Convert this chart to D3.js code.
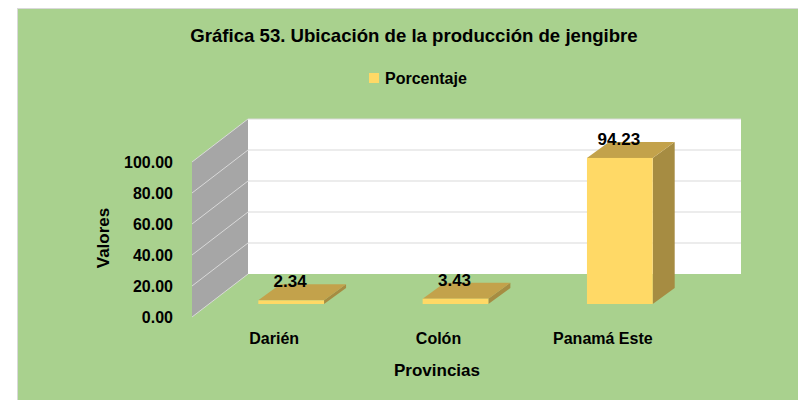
<!DOCTYPE html>
<html>
<head>
<meta charset="utf-8">
<script src="https://cdn.jsdelivr.net/npm/d3@7"></script>
<style>
  html, body { margin: 0; padding: 0; background: #ffffff; }
  svg { display: block; }
  text { font-family: "Liberation Sans", Arial, sans-serif; font-weight: bold; fill: #000; }
</style>
</head>
<body>
<svg id="chart" width="798" height="400"></svg>
<script>
// Chart data
const categories = ["Darién", "Colón", "Panamá Este"];
const porcentaje = [2.34, 3.43, 94.23];
const yTicks = [0, 20, 40, 60, 80, 100];
const seriesName = "Porcentaje";
const titleText = "Gráfica 53. Ubicación de la producción de jengibre";
const xTitle = "Provincias";
const yTitle = "Valores";

const FONT = "'Liberation Sans', Arial, sans-serif";
const svg = d3.select("#chart");

// Outer chart area
svg.append("rect")
  .attr("x", 17.5).attr("y", 8.5)
  .attr("width", 820).attr("height", 420)
  .attr("fill", "#A9D18E")
  .attr("stroke", "#D9D9D9").attr("stroke-width", 1);

// 3D plot geometry: front floor edge and depth offset of the back wall
const frontLeft = 192, frontRight = 685;
const depthX = 56, depthY = 43;

const y = d3.scaleLinear().domain([0, 100]).range([317, 162]);
const x = d3.scaleBand().domain(categories).range([frontLeft, frontRight]);

// Back wall
svg.append("rect")
  .attr("x", frontLeft + depthX).attr("y", y(100) - depthY)
  .attr("width", frontRight - frontLeft).attr("height", y(0) - y(100))
  .attr("fill", "#FFFFFF");

// Side wall
svg.append("polygon")
  .attr("points", [
    [frontLeft, y(0)], [frontLeft + depthX, y(0) - depthY],
    [frontLeft + depthX, y(100) - depthY], [frontLeft, y(100)]
  ].map(p => p.join(",")).join(" "))
  .attr("fill", "#A6A6A6");

// Gridlines on back wall and side wall
const grid = svg.append("g");
yTicks.forEach(t => {
  if (t > 0) {
    grid.append("line")
      .attr("x1", frontLeft + depthX).attr("x2", frontRight + depthX)
      .attr("y1", y(t) - depthY).attr("y2", y(t) - depthY)
      .attr("stroke", "#D9D9D9").attr("stroke-width", 1);
  }
  grid.append("line")
    .attr("x1", frontLeft).attr("y1", y(t))
    .attr("x2", frontLeft + depthX).attr("y2", y(t) - depthY)
    .attr("stroke", "#D9D9D9").attr("stroke-width", 1);
});

// Y axis labels
const yAxis = d3.axisLeft(y).tickValues(yTicks).tickFormat(d3.format(".2f")).tickSize(0).tickPadding(19);
const yG = svg.append("g").attr("transform", `translate(${frontLeft},0)`).call(yAxis);
yG.select(".domain").remove();
yG.selectAll("text").style("font-size", "16px").attr("dy", "0.36em")
  .style("font-family", FONT).style("font-weight", "bold").attr("fill", "#000");

// X axis labels
const xAxis = d3.axisBottom(x).tickSize(0).tickPadding(16);
const xG = svg.append("g").attr("transform", `translate(0,${y(0)})`).call(xAxis);
xG.select(".domain").remove();
xG.selectAll("text").style("font-size", "16px")
  .style("font-family", FONT).style("font-weight", "bold").attr("fill", "#000");

// 3D bars placed mid-depth
const barOffX = 17, barOffY = 13, barDX = 22, barDY = 16;
const barW = x.bandwidth() * 0.4;
const bars = svg.append("g");
categories.forEach((c, i) => {
  const v = porcentaje[i];
  const cx = x(c) + x.bandwidth() / 2 + barOffX;
  const x0 = cx - barW / 2, x1 = cx + barW / 2;
  const yt = y(v) - barOffY, yb = y(0) - barOffY;
  // side face
  bars.append("polygon")
    .attr("points", [[x1, yt], [x1 + barDX, yt - barDY], [x1 + barDX, yb - barDY], [x1, yb]].map(p => p.join(",")).join(" "))
    .attr("fill", "#A68C42");
  // top face
  bars.append("polygon")
    .attr("points", [[x0, yt], [x1, yt], [x1 + barDX, yt - barDY], [x0 + barDX, yt - barDY]].map(p => p.join(",")).join(" "))
    .attr("fill", "#C3A24B");
  // front face
  bars.append("rect")
    .attr("x", x0).attr("y", yt).attr("width", barW).attr("height", yb - yt)
    .attr("fill", "#FFD966");
  // value label
  bars.append("text")
    .attr("x", cx - 1).attr("y", yt - 19).attr("dy", "0.36em")
    .attr("text-anchor", "middle").style("font-size", "17px")
    .text(d3.format(".2f")(v));
});

// Title
svg.append("text")
  .attr("x", 414).attr("y", 42)
  .attr("text-anchor", "middle").style("font-size", "18.6px")
  .text(titleText);

// Legend
svg.append("rect").attr("x", 369).attr("y", 73).attr("width", 10).attr("height", 10).attr("fill", "#FFD966");
svg.append("text").attr("x", 385).attr("y", 84).style("font-size", "16px").text(seriesName);

// Axis titles
svg.append("text")
  .attr("x", 437).attr("y", 376)
  .attr("text-anchor", "middle").style("font-size", "17px")
  .text(xTitle);
svg.append("text")
  .attr("transform", "translate(109,238) rotate(-90)")
  .attr("text-anchor", "middle").style("font-size", "17px")
  .text(yTitle);
</script>
</body>
</html>
